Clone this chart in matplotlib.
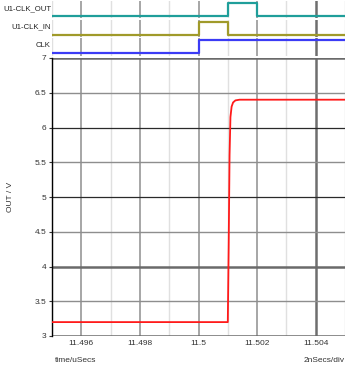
import matplotlib
matplotlib.use("Agg")
import matplotlib.pyplot as plt
import numpy as np

plt.rcParams['font.family'] = ['Liberation Sans', 'DejaVu Sans']

# analog trace OUT (time in uSecs, volts)
out_t = [11.495, 11.50100, 11.50103, 11.50106, 11.50109, 11.50113, 11.50118, 11.50126, 11.50140, 11.505]
out_v = [3.2, 3.2, 4.3, 5.6, 6.15, 6.30, 6.36, 6.39, 6.40, 6.40]

# digital traces (step-post)
clk_t = [11.495, 11.5, 11.505]
clk_v = [0, 1, 1]
clkin_t = [11.495, 11.5, 11.501, 11.505]
clkin_v = [0, 1, 0, 0]
clkout_t = [11.495, 11.501, 11.502, 11.505]
clkout_v = [0, 1, 0, 0]

x_ticks = [11.496, 11.498, 11.5, 11.502, 11.504]
x_labels = ['11.496', '11.498', '11.5', '11.502', '11.504']
x_minor = [11.495, 11.497, 11.499, 11.501, 11.503, 11.505]
y_ticks = [3, 3.5, 4, 4.5, 5, 5.5, 6, 6.5, 7]
y_labels = ['3', '3.5', '4', '4.5', '5', '5.5', '6', '6.5', '7']

W, H = 350, 370
fig = plt.figure(figsize=(W / 100, H / 100), dpi=100)
x0, x1 = 52, 345


def box(top, bottom):
    return [x0 / W, 1 - bottom / H, (x1 - x0) / W, (bottom - top) / H]


def vgrid(ax):
    for t in x_minor:
        ax.axvline(t, color='#e0e0e0', lw=1.0, zorder=0)
    for t in x_ticks:
        if t == 11.504:
            ax.axvline(t, color='#6e6e6e', lw=1.8, zorder=0)
        else:
            ax.axvline(t, color='#8e8e8e', lw=1.1, zorder=0)


digital = [
    ('U1-CLK_OUT', clkout_t, clkout_v, '#1f9e9a', 1, 18),
    ('U1-CLK_IN', clkin_t, clkin_v, '#a09a2a', 19.5, 37),
    ('CLK', clk_t, clk_v, '#3b3bf5', 38, 55.5),
]
for name, tt, vv, col, top, bot in digital:
    a = fig.add_axes(box(top, bot))
    vgrid(a)
    a.plot(tt, vv, color=col, lw=1.6, drawstyle='steps-post', zorder=3)
    a.set_xlim(11.495, 11.505)
    a.set_ylim(-0.15, 1.15)
    a.axis('off')
    fig.text((x0 - 1) / W, 1 - ((top + bot) / 2 - 1) / H, name, ha='right', va='center',
             fontsize=5.6, color='#222222')

ax = fig.add_axes(box(58, 336))
vgrid(ax)
for yv in y_ticks:
    if yv in (7, 4, 3):
        ax.axhline(yv, color='#6a6a6a', lw=1.8, zorder=1)
    elif yv in (6, 5):
        ax.axhline(yv, color='#2a2a2a', lw=0.9, zorder=1)
    else:
        ax.axhline(yv, color='#8e8e8e', lw=1.0, zorder=1)

ax.plot(out_t, out_v, color='#ff1a1a', lw=1.3, zorder=3)

ax.set_xlim(11.495, 11.505)
ax.set_ylim(3, 7)
ax.set_xticks(x_ticks)
ax.set_xticklabels(x_labels)
ax.set_yticks(y_ticks)
ax.set_yticklabels(y_labels)
ax.tick_params(axis='both', labelsize=6, colors='#333333', length=2, width=0.8, pad=2)
ax.tick_params(axis='x', length=0, pad=3)
for s in ['top', 'right', 'bottom']:
    ax.spines[s].set_visible(False)
ax.spines['left'].set_color('black')
ax.spines['left'].set_linewidth(1.0)
ax.set_ylabel('OUT / V', fontsize=6, color='#333333', labelpad=15)

fig.text(55 / W, 1 - 360 / H, 'time/uSecs', fontsize=6, color='#333333', ha='left', va='center')
fig.text(345 / W, 1 - 360 / H, '2nSecs/div', fontsize=6, color='#333333', ha='right', va='center')

fig.savefig('out.png', dpi=100, facecolor='white')
